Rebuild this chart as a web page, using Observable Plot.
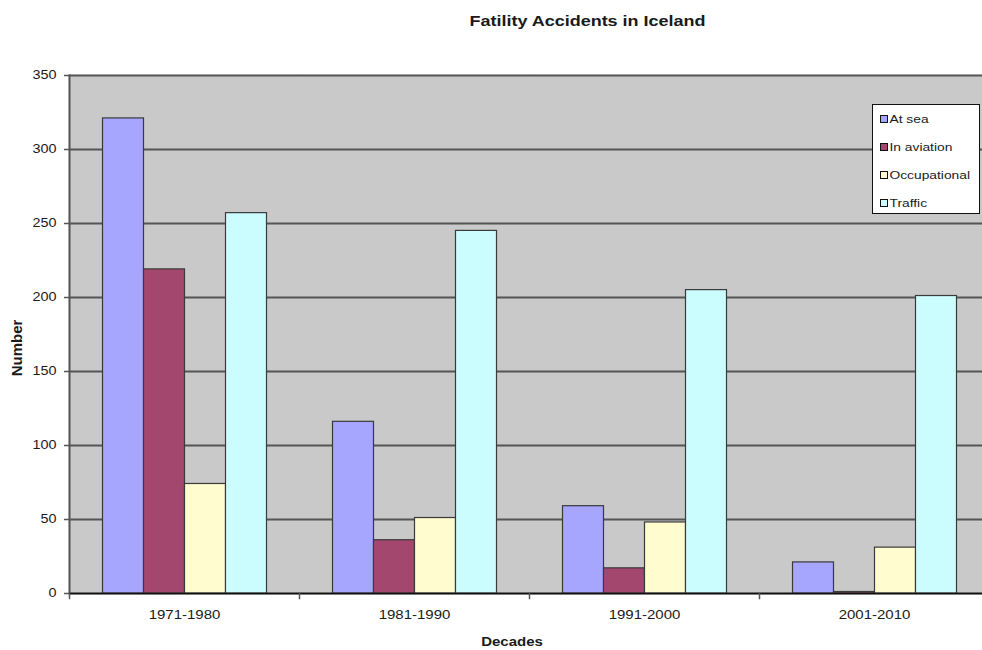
<!DOCTYPE html>
<html>
<head>
<meta charset="utf-8">
<script src="https://cdn.jsdelivr.net/npm/d3@7"></script>
<script src="https://cdn.jsdelivr.net/npm/@observablehq/plot@0.6"></script>
<style>
  html, body { margin: 0; padding: 0; background: #fff; }
  #chart { width: 982px; height: 650px; }
  #chart > svg { display: block; max-width: none !important; }
</style>
</head>
<body>
<div id="chart"></div>
<script>
// Fatal accidents in Iceland by decade and type
const decades = ["1971-1980", "1981-1990", "1991-2000", "2001-2010"];
const series = ["At sea", "In aviation", "Occupational", "Traffic"];
const atSea = [321, 116, 59, 21];
const inAviation = [219, 36, 17, 1];
const occupational = [74, 51, 48, 31];
const traffic = [257, 245, 205, 201];
const seriesColors = ["#a6a6fe", "#a4476f", "#fffccf", "#ccfdfe"];
const yTicks = [0, 50, 100, 150, 200, 250, 300, 350];

const valuesBySeries = [atSea, inAviation, occupational, traffic];
const rows = [];
decades.forEach((decade, i) => {
  series.forEach((s, j) => rows.push({decade, series: s, value: valuesBySeries[j][i]}));
});

const fontFamily = '"Liberation Sans", Arial, sans-serif';
const textColor = "#1a1a1a";
const plotHeight = 650, marginTop = 75, marginBottom = 57;
const innerHeight = plotHeight - marginTop - marginBottom;
const plotBg = "#c9c9c9";
const textStretch = 1.2;

const chart = Plot.plot({
  width: 982,
  height: plotHeight,
  marginLeft: 67.5,
  marginRight: -9,   // the gray plot area runs on past the right edge
  marginTop,
  marginBottom,
  style: {fontFamily, fontSize: "12px", color: textColor, background: "transparent", maxWidth: "none"},
  fx: {domain: decades, paddingInner: 0, paddingOuter: 0, label: null, axis: null},
  x: {domain: series, paddingInner: 0, paddingOuter: 0.766, axis: null},
  y: {domain: [0, 350], label: null},
  color: {domain: series, range: seriesColors},
  marks: [
    // gray plot area; the matching stroke hides seams between facets
    Plot.frame({fill: plotBg, stroke: plotBg, strokeWidth: 1.5}),
    Plot.gridY(yTicks, {stroke: "#555", strokeWidth: 2, strokeOpacity: 1}),
    Plot.barY(rows, {fx: "decade", x: "series", y: "value", fill: "series", stroke: "#3a3a3a", strokeWidth: 1.2}),
    Plot.frame({anchor: "left", facetAnchor: "left", stroke: "#555", strokeWidth: 2}),
    Plot.ruleY([0], {stroke: "#111", strokeWidth: 1.5}),
    // tick marks at the boundaries between decades
    Plot.frame({anchor: "left", insetTop: innerHeight, insetBottom: -5, stroke: "#555", strokeWidth: 1.5}),
    Plot.axisY(yTicks, {tickSize: 5, tickPadding: 8, stroke: "#555", strokeWidth: 1.5, label: null, fontSize: 12}),
    Plot.axisFx({anchor: "bottom", tickSize: 0, tickPadding: 16.5, label: null, fontSize: 12.5})
  ]
});
document.getElementById("chart").append(chart);

const svg = d3.select(chart);

// Title and axis titles
svg.append("text")
  .attr("x", 587.5).attr("y", 26)
  .attr("text-anchor", "middle")
  .attr("font-weight", "bold").attr("font-size", 15)
  .attr("fill", textColor)
  .text("Fatility Accidents in Iceland");

svg.append("text")
  .attr("x", 512).attr("y", 646)
  .attr("text-anchor", "middle")
  .attr("font-weight", "bold").attr("font-size", 12.5)
  .attr("fill", textColor)
  .text("Decades");

// Legend box
const legend = svg.append("g").attr("transform", "translate(872.5,104.5)");
legend.append("rect")
  .attr("width", 107).attr("height", 109)
  .attr("fill", "#fff").attr("stroke", "#111").attr("stroke-width", 1);
const items = legend.selectAll("g.item").data(series).join("g")
  .attr("class", "item")
  .attr("transform", (d, j) => `translate(8,${14.5 + 28 * j})`);
items.append("rect")
  .attr("x", 0).attr("y", -3.5).attr("width", 7).attr("height", 7)
  .attr("fill", (d, j) => seriesColors[j]).attr("stroke", "#111").attr("stroke-width", 1);
items.append("text")
  .attr("x", 9).attr("dy", "0.35em")
  .attr("text-anchor", "start")
  .attr("font-size", 11.5).attr("fill", textColor)
  .text((d) => d);

// Widen label glyphs horizontally about their anchor point
svg.selectAll("text").each(function() {
  const x = +(this.getAttribute("x") || 0);
  const t = this.getAttribute("transform") || "";
  this.setAttribute("transform", `${t} translate(${x},0) scale(${textStretch},1) translate(${-x},0)`);
});

// Rotated y-axis title, drawn after the widening so it keeps its own proportions
svg.append("text")
  .attr("transform", "translate(17,348) rotate(-90)")
  .attr("text-anchor", "middle").attr("dy", "0.35em")
  .attr("font-weight", "bold").attr("font-size", 15)
  .attr("fill", textColor)
  .text("Number");
</script>
</body>
</html>
